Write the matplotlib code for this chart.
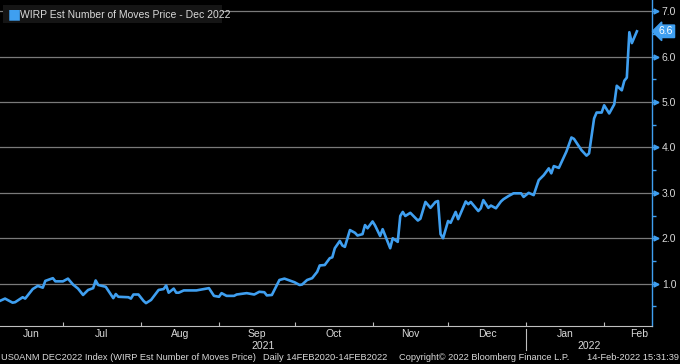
import matplotlib
matplotlib.use("Agg")
import matplotlib.pyplot as plt
import matplotlib.transforms as mtransforms
import matplotlib.patches as mpatches
import pandas as pd

# WIRP est. number of hikes priced for Dec 2022
DATES = [
    "2021-06-06", "2021-06-08", "2021-06-11", "2021-06-12", "2021-06-15", "2021-06-16",
    "2021-06-19", "2021-06-21", "2021-06-23", "2021-06-24", "2021-06-27", "2021-06-28",
    "2021-07-01", "2021-07-03", "2021-07-05", "2021-07-07", "2021-07-09", "2021-07-11",
    "2021-07-13", "2021-07-14", "2021-07-15", "2021-07-18", "2021-07-21", "2021-07-22",
    "2021-07-23", "2021-07-27", "2021-07-28", "2021-07-29", "2021-07-31",
    "2021-08-02", "2021-08-03", "2021-08-05", "2021-08-08", "2021-08-10", "2021-08-11",
    "2021-08-12", "2021-08-14", "2021-08-15", "2021-08-16", "2021-08-18", "2021-08-23",
    "2021-08-25", "2021-08-28", "2021-08-30",
    "2021-09-01", "2021-09-02", "2021-09-04", "2021-09-07", "2021-09-08", "2021-09-12",
    "2021-09-15", "2021-09-17", "2021-09-19", "2021-09-20", "2021-09-22", "2021-09-25",
    "2021-09-27", "2021-09-28",
    "2021-10-01", "2021-10-03", "2021-10-04", "2021-10-06", "2021-10-08", "2021-10-10",
    "2021-10-11", "2021-10-13", "2021-10-15", "2021-10-16", "2021-10-17", "2021-10-19",
    "2021-10-20", "2021-10-21", "2021-10-23", "2021-10-25", "2021-10-26", "2021-10-28",
    "2021-10-29", "2021-10-30",
    "2021-11-01", "2021-11-02", "2021-11-04", "2021-11-05", "2021-11-08", "2021-11-09",
    "2021-11-11", "2021-11-12", "2021-11-13", "2021-11-14", "2021-11-16", "2021-11-19",
    "2021-11-20", "2021-11-22", "2021-11-24", "2021-11-26", "2021-11-27", "2021-11-28",
    "2021-11-29",
    "2021-12-01", "2021-12-02", "2021-12-04", "2021-12-05", "2021-12-08", "2021-12-09",
    "2021-12-10", "2021-12-13", "2021-12-14", "2021-12-15", "2021-12-17", "2021-12-18",
    "2021-12-20", "2021-12-22", "2021-12-23", "2021-12-25", "2021-12-27", "2021-12-30",
    "2021-12-31",
    "2022-01-02", "2022-01-04", "2022-01-06", "2022-01-08", "2022-01-10", "2022-01-11",
    "2022-01-12", "2022-01-14", "2022-01-17", "2022-01-19", "2022-01-20", "2022-01-23",
    "2022-01-25", "2022-01-26", "2022-01-28", "2022-01-29", "2022-01-31",
    "2022-02-01", "2022-02-03", "2022-02-05", "2022-02-06", "2022-02-08", "2022-02-09",
    "2022-02-10", "2022-02-11", "2022-02-12", "2022-02-14",
]
VALUES = [
    0.62, 0.67, 0.58, 0.59, 0.70, 0.67,
    0.88, 0.95, 0.91, 1.06, 1.12, 1.05,
    1.05, 1.11, 0.98, 0.89, 0.75, 0.86,
    0.90, 1.07, 0.97, 0.93, 0.68, 0.77,
    0.71, 0.70, 0.67, 0.76, 0.76,
    0.62, 0.57, 0.64, 0.86, 0.88, 0.96,
    0.80, 0.89, 0.80, 0.80, 0.85, 0.85,
    0.87, 0.90, 0.73,
    0.71, 0.79, 0.73, 0.73, 0.76, 0.79,
    0.76, 0.82, 0.81, 0.74, 0.75, 1.08,
    1.11, 1.09,
    1.03, 0.97, 0.98, 1.08, 1.12, 1.26,
    1.40, 1.41, 1.56, 1.58, 1.78, 1.94,
    1.84, 1.81, 2.18, 2.12, 2.06, 2.09,
    2.29, 2.22,
    2.37, 2.28, 2.05, 2.20, 1.78, 2.00,
    1.92, 2.49, 2.58, 2.49, 2.56, 2.39,
    2.43, 2.80, 2.67, 2.80, 2.82, 2.09,
    2.00,
    2.38, 2.34, 2.58, 2.42, 2.81, 2.75,
    2.80, 2.60, 2.66, 2.84, 2.67, 2.72,
    2.66, 2.81, 2.86, 2.93, 2.99, 2.99,
    2.91,
    3.00, 2.95, 3.28, 3.39, 3.54, 3.43,
    3.59, 3.55, 3.91, 4.22, 4.19, 3.94,
    3.82, 3.87, 4.64, 4.77, 4.77,
    4.93, 4.75, 4.95, 5.36, 5.26, 5.47,
    5.54, 6.54, 6.30, 6.56,
]
Y_TICKS = [1, 2, 3, 4, 5, 6, 7]
MONTHS = ["2021-06-01", "2021-07-01", "2021-08-01", "2021-09-01", "2021-10-01",
          "2021-11-01", "2021-12-01", "2022-01-01", "2022-02-01", "2022-03-01"]
MONTH_LABELS = ["Jun", "Jul", "Aug", "Sep", "Oct", "Nov", "Dec", "Jan", "Feb"]
YEARS = [("2021", "2021-06-06", "2022-01-01"), ("2022", "2022-01-01", "2022-02-20")]
LEGEND_TEXT = "WIRP Est Number of Moves Price - Dec 2022"
LAST_LABEL = "6.6"

BLUE = "#3f9ff0"
TXT = "#d9d9d9"
GRID = "#7a7a7a"
plt.rcParams["font.family"] = ["Liberation Sans", "DejaVu Sans"]
FS = 7.5

dates = pd.to_datetime(DATES)
x0, x1 = pd.Timestamp("2021-06-06"), pd.Timestamp("2022-02-20")

fig = plt.figure(figsize=(6.8, 3.64), dpi=100, facecolor="black")
ax = fig.add_axes([0.0, 38 / 364, 652 / 680, 326 / 364], facecolor="black")

ax.plot(dates, VALUES, color=BLUE, lw=1.9, solid_joinstyle="round", zorder=3)

# horizontal grid
for v in Y_TICKS:
    ax.axhline(v, color=GRID, lw=0.9, zorder=1)

# spines
for s in ["top", "left"]:
    ax.spines[s].set_visible(False)
ax.spines["bottom"].set_color("#bfbfbf")
ax.spines["bottom"].set_linewidth(0.8)
ax.spines["right"].set_color(BLUE)
ax.spines["right"].set_linewidth(1.0)

# right y axis
ax.yaxis.tick_right()
ax.set_yticks(Y_TICKS)
ax.set_yticklabels(["%.1f" % v for v in Y_TICKS])
ax.set_yticks([v + 0.5 for v in range(0, 7)], minor=True)
ax.tick_params(axis="y", which="major", colors=BLUE, labelcolor=TXT, length=4,
               width=1, pad=3, labelsize=FS)
ax.tick_params(axis="y", which="minor", colors=BLUE, length=3, width=1)
arrow_tr = mtransforms.offset_copy(ax.get_yaxis_transform(), fig=fig, x=4, y=0, units="dots")
ax.plot([1.0] * len(Y_TICKS), Y_TICKS, ls="none", marker=">", ms=3.5, color=BLUE,
        transform=arrow_tr, clip_on=False)

# x axis: ticks at month starts, labels at month centres
mstarts = pd.to_datetime(MONTHS)
ax.set_xticks(mstarts[1:-1])
ax.set_xticklabels([])
centres = []
for a, b in zip(mstarts[:-1], mstarts[1:]):
    a = max(a, x0)
    centres.append(a + (b - a) / 2)
ax.set_xticks(centres, minor=True)
ax.set_xticklabels(MONTH_LABELS, minor=True)
ax.tick_params(axis="x", which="major", direction="in", colors="#bfbfbf", length=3, width=0.8)
ax.tick_params(axis="x", which="minor", length=0, pad=2, labelcolor=TXT, labelsize=FS)

ax.set_xlim(x0, x1)
ax.set_ylim(0.066, 7.25)

# year labels and separator
xt = ax.get_xaxis_transform()
for name, a, b in YEARS:
    a, b = pd.Timestamp(a), pd.Timestamp(b)
    ax.text(a + (b - a) / 2, -0.06, name, transform=xt, ha="center", va="center",
            color=TXT, fontsize=FS)
ax.plot([pd.Timestamp("2022-01-01")] * 2, [-0.01, -0.075], transform=xt,
        color="#bfbfbf", lw=0.8, clip_on=False)

# legend box
ax.add_patch(mpatches.Rectangle((0.005, 0.928), 0.335, 0.058, transform=ax.transAxes,
                                fc="#151515", ec="none", zorder=4))
ax.text(0.031, 0.955, LEGEND_TEXT, transform=ax.transAxes, color=TXT, fontsize=FS,
        va="center", ha="left", zorder=5)
ax.text(0.012, 0.955, "\u25A0", transform=ax.transAxes, color=BLUE, fontsize=10,
        va="center", ha="left", family="DejaVu Sans", zorder=6)

# last value tag
ax.annotate(LAST_LABEL, xy=(1.0, VALUES[-1]), xycoords=("axes fraction", "data"),
            xytext=(5, 0), textcoords="offset points", ha="left", va="center",
            color="white", fontsize=FS, annotation_clip=False,
            bbox=dict(boxstyle="larrow,pad=0.12", fc=BLUE, ec=BLUE))

# footer
fy = 7 / 364
fs2 = 6.7
fig.text(0.002, fy, "US0ANM DEC2022 Index (WIRP Est Number of Moves Price)", color=TXT,
         fontsize=fs2, va="center", ha="left")
fig.text(263 / 680, fy, "Daily 14FEB2020-14FEB2022", color=TXT, fontsize=fs2, va="center", ha="left")
fig.text(399 / 680, fy, "Copyright\u00a9 2022 Bloomberg Finance L.P.", color=TXT, fontsize=fs2,
         va="center", ha="left")
fig.text(0.998, fy, "14-Feb-2022 15:31:39", color=TXT, fontsize=fs2, va="center", ha="right")

fig.savefig("out.png", dpi=100, facecolor="black")
